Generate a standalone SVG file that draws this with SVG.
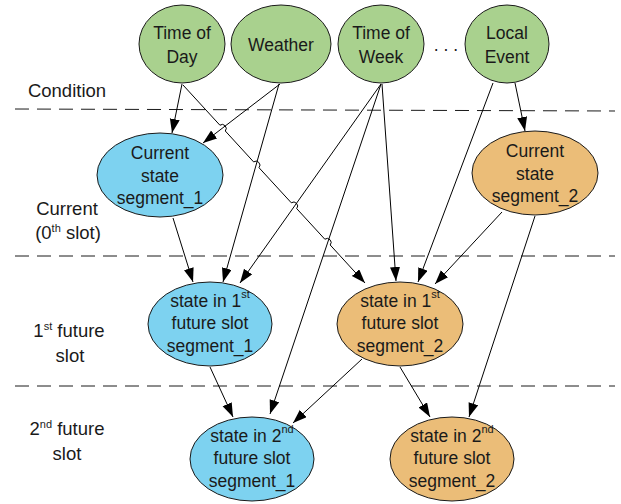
<svg xmlns="http://www.w3.org/2000/svg" width="621" height="504" viewBox="0 0 621 504">
<style>
text{font-family:"Liberation Sans",Arial,sans-serif;font-size:17.5px;fill:#1a1a1a;text-anchor:middle}
.lbl{font-size:18.5px}
.sup{font-size:11px}
.node{stroke:#1a1a1a;stroke-width:1}
.g{fill:#A9D18E}.b{fill:#7DD2F0}.o{fill:#EBBD78}
.dash{stroke:#1a1a1a;stroke-width:1;stroke-dasharray:14 8;fill:none}
.c{stroke:#000;stroke-width:1;fill:none;marker-end:url(#ah)}
</style>
<defs>
<marker id="ah" markerUnits="userSpaceOnUse" markerWidth="15" markerHeight="11" refX="14" refY="5" orient="auto">
<path d="M0,0 L14,5 L0,10 z" fill="#000"/>
</marker>
</defs>
<rect width="621" height="504" fill="#fff"/>
<g id="dividers">
<line class="dash" x1="15" y1="109" x2="615" y2="111"/>
<line class="dash" x1="15" y1="256" x2="615" y2="256"/>
<line class="dash" x1="15" y1="386" x2="615" y2="386"/>
</g>
<g id="row-labels">
<text class="lbl" x="67" y="97">Condition</text>
<text class="lbl" x="67" y="215">Current</text>
<text class="lbl" x="68" y="239">(0<tspan class="sup" dy="-7">th</tspan><tspan dy="7"> slot)</tspan></text>
<text class="lbl" x="69" y="337">1<tspan class="sup" dy="-7">st</tspan><tspan dy="7"> future</tspan></text>
<text class="lbl" x="70" y="362">slot</text>
<text class="lbl" x="67" y="435">2<tspan class="sup" dy="-7">nd</tspan><tspan dy="7"> future</tspan></text>
<text class="lbl" x="67" y="460">slot</text>
</g>
<g id="connectors">
<line class="c" x1="182" y1="84" x2="172" y2="133"/>
<path class="c" d="M183,85 L219.9,125.2 A4,4 0 0 1 225.3,131.0 L253.6,161.9 A4,4 0 0 1 259.0,167.7 L291.3,202.8 A4,4 0 0 1 296.7,208.6 L324.8,239.2 A4,4 0 0 1 330.2,245.0 L365,283"/>
<line class="c" x1="280" y1="84" x2="203" y2="143"/>
<line class="c" x1="279" y1="84" x2="223" y2="282"/>
<line class="c" x1="381" y1="84" x2="240" y2="283"/>
<line class="c" x1="381" y1="84" x2="270" y2="414"/>
<line class="c" x1="382" y1="84" x2="396" y2="281"/>
<line class="c" x1="515" y1="83" x2="525" y2="131"/>
<line class="c" x1="493" y1="83" x2="418" y2="282"/>
<line class="c" x1="502" y1="212" x2="435" y2="284"/>
<line class="c" x1="535" y1="216" x2="469" y2="417"/>
<line class="c" x1="173" y1="218" x2="193" y2="282"/>
<line class="c" x1="210" y1="367" x2="233" y2="417"/>
<line class="c" x1="362" y1="359" x2="293" y2="423"/>
<line class="c" x1="400" y1="367" x2="430" y2="417"/>
</g>
<g id="time-of-day">
<ellipse class="node g" cx="182" cy="44" rx="43" ry="39"/>
<text x="182" y="39">Time of</text>
<text x="182" y="63">Day</text>
</g>
<g id="weather">
<ellipse class="node g" cx="281" cy="44" rx="50" ry="39"/>
<text x="281" y="51">Weather</text>
</g>
<g id="time-of-week">
<ellipse class="node g" cx="381" cy="44" rx="43" ry="39"/>
<text x="381" y="39">Time of</text>
<text x="381" y="63">Week</text>
</g>
<g id="ellipsis">
<text x="446" y="51" font-size="18">. . .</text>
</g>
<g id="local-event">
<ellipse class="node g" cx="507" cy="44" rx="42" ry="39"/>
<text x="507" y="39">Local</text>
<text x="507" y="63">Event</text>
</g>
<g id="current-seg1">
<ellipse class="node b" cx="160" cy="175" rx="63" ry="42"/>
<text x="160" y="159">Current</text>
<text x="160" y="182">state</text>
<text x="160" y="204">segment_1</text>
</g>
<g id="current-seg2">
<ellipse class="node o" cx="535" cy="173" rx="63" ry="42"/>
<text x="535" y="157">Current</text>
<text x="535" y="180">state</text>
<text x="535" y="202">segment_2</text>
</g>
<g id="slot1-seg1">
<ellipse class="node b" cx="210" cy="324" rx="62" ry="42"/>
<text x="210" y="307">state in 1<tspan class="sup" dy="-9">st</tspan></text>
<text x="210" y="329">future slot</text>
<text x="210" y="352">segment_1</text>
</g>
<g id="slot1-seg2">
<ellipse class="node o" cx="400" cy="324" rx="63" ry="42"/>
<text x="400" y="307">state in 1<tspan class="sup" dy="-9">st</tspan></text>
<text x="400" y="329">future slot</text>
<text x="400" y="352">segment_2</text>
</g>
<g id="slot2-seg1">
<ellipse class="node b" cx="252" cy="459" rx="62" ry="42"/>
<text x="252" y="442">state in 2<tspan class="sup" dy="-9">nd</tspan></text>
<text x="252" y="464">future slot</text>
<text x="252" y="487">segment_1</text>
</g>
<g id="slot2-seg2">
<ellipse class="node o" cx="452" cy="459" rx="62" ry="42"/>
<text x="452" y="442">state in 2<tspan class="sup" dy="-9">nd</tspan></text>
<text x="452" y="464">future slot</text>
<text x="452" y="487">segment_2</text>
</g>
</svg>
